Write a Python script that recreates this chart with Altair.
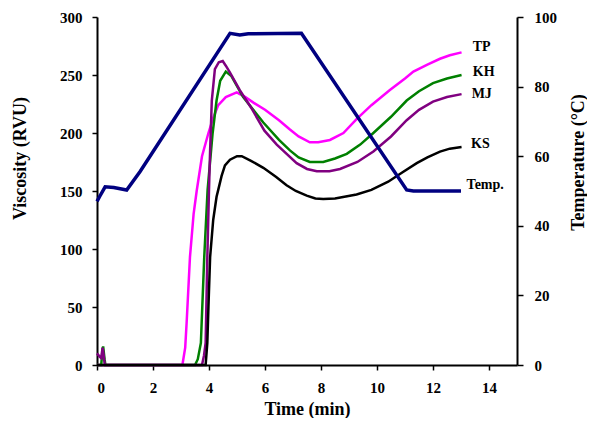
import altair as alt
import pandas as pd

# ---- data ----
series_names = ["TP", "KH", "MJ", "KS"]
series_colors = ["#FF00FF", "#008000", "#800080", "#000000"]

tp_time = [0, 3.05, 3.15, 3.2, 3.32, 3.45, 3.56, 3.75, 3.98, 4.15, 4.33, 4.6, 4.99, 5.3, 5.6, 6.0,
           6.5, 6.89, 7.2, 7.6, 7.9, 8.32, 8.8, 9.27, 9.8, 10.46, 11.0, 11.3, 11.8, 12.25, 12.6, 13.02]
tp_visc = [0, 0, 15, 36, 93, 130, 150, 180, 200, 213, 224, 231, 235, 231, 226, 220,
           211, 203, 197, 192, 192, 194, 200, 212, 224, 237, 247, 253, 259, 264, 267, 269.5]

kh_time = [0, 0.15, 0.2, 0.22, 0.27, 0.3, 3.5, 3.6, 3.71, 3.83, 3.95, 4.13, 4.27, 4.4, 4.6, 4.8,
           5.22, 5.94, 6.5, 6.89, 7.2, 7.6, 8.08, 8.5, 8.92, 9.4, 9.87, 10.5, 11.06, 11.5, 12.0, 12.5, 13.02]
kh_visc = [0, 0, 14, 16, 5, 0, 0, 5, 19, 93, 151, 200, 228, 245, 253, 249,
           231, 209, 194, 185, 179, 175, 175, 178, 182, 190, 200, 214, 228, 236, 243, 247, 250]

mj_time = [0, 0.1, 0.15, 0.2, 0.24, 0.28, 3.75, 3.82, 3.88, 3.94, 4.0, 4.04, 4.1, 4.21, 4.35, 4.49,
           4.6, 4.75, 5.1, 5.5, 5.98, 6.42, 7.13, 7.5, 7.85, 8.3, 8.68, 9.3, 9.87, 10.5, 11.06, 11.5,
           12.0, 12.5, 13.02]
mj_visc = [10, 7, 6, 15, 8, 0, 0, 8, 19, 93, 151, 185, 228, 255, 261, 262,
           258, 252, 237, 222, 202, 190, 174, 169, 167, 167, 169, 175, 184, 197, 211, 220,
           227, 231, 233.5]

ks_time = [0, 3.88, 3.94, 3.98, 4.04, 4.15, 4.27, 4.33, 4.45, 4.57, 4.75, 5.0, 5.17, 5.5, 5.94,
           6.4, 6.77, 7.1, 7.49, 7.8, 8.08, 8.5, 9.27, 9.8, 10.4, 10.9, 11.42, 11.8, 12.25, 12.6, 13.02]
ks_visc = [0, 0, 19, 50, 93, 125, 145, 151, 163, 172, 177, 180, 180, 176, 170,
           162, 155, 150, 146, 143.5, 143, 143.5, 147, 151, 158, 166, 174, 179, 184, 186.5, 188]

temp_time = [0, 0.1, 0.29, 0.6, 1.06, 1.54, 4.75, 5.1, 5.4, 7.3, 11.06, 11.3, 13.0]
temp_vals = [47, 48.5, 51.2, 51, 50.3, 55.6, 95.3, 94.8, 95.2, 95.3, 50.3, 50, 50]

label_text = ["TP", "KH", "MJ", "KS", "Temp."]
label_time = [13.42, 13.42, 13.38, 13.36, 13.2]
label_visc = [274, 252.5, 233.5, 190.5, 155]

x_ticks = [0, 2, 4, 6, 8, 10, 12, 14]
visc_ticks = [0, 50, 100, 150, 200, 250, 300]
temp_ticks = [0, 20, 40, 60, 80, 100]

# ---- tables ----
rows = []
for name, ts, vs in zip(series_names,
                        [tp_time, kh_time, mj_time, ks_time],
                        [tp_visc, kh_visc, mj_visc, ks_visc]):
    for t, v in zip(ts, vs):
        rows.append({"series": name, "time": t, "visc": v})
visc_df = pd.DataFrame(rows)
temp_df = pd.DataFrame({"time": temp_time, "temp": temp_vals})
label_df = pd.DataFrame({"label": label_text, "time": label_time, "visc": label_visc})

FONT = "Liberation Serif"

x_enc = alt.X("time:Q",
              scale=alt.Scale(domain=[0, 15], nice=False),
              axis=alt.Axis(values=x_ticks, title="Time (min)", titleY=44,
                            titleBaseline="middle", labelPadding=10, format="d"))

y_axis = alt.Axis(orient="left", values=visc_ticks, title="Viscosity (RVU)",
                  titleAngle=270, titleX=-77, titleY=141, titleBaseline="middle",
                  titleAlign="center", labelPadding=10)
y_scale = alt.Scale(domain=[0, 300], nice=False)

visc_lines = alt.Chart(visc_df).mark_line(strokeWidth=2.5).encode(
    x=x_enc,
    y=alt.Y("visc:Q", scale=y_scale, axis=y_axis),
    color=alt.Color("series:N", scale=alt.Scale(domain=series_names, range=series_colors),
                    legend=None),
    detail="series:N",
)

labels = alt.Chart(label_df).mark_text(
    align="left", baseline="middle", font=FONT, fontWeight="bold", fontSize=14, color="black"
).encode(
    x=x_enc,
    y=alt.Y("visc:Q", scale=y_scale, axis=y_axis),
    text="label:N",
)

temp_line = alt.Chart(temp_df).mark_line(strokeWidth=3.5, color="#000080").encode(
    x=x_enc,
    y=alt.Y("temp:Q", scale=alt.Scale(domain=[0, 100], nice=False),
            axis=alt.Axis(orient="right", values=temp_ticks, title="Temperature (°C)",
                          titleAngle=270, titleX=61, titleY=145, titleBaseline="middle",
                          titleAlign="center", labelPadding=11, tickSize=6)),
)

chart = alt.layer(alt.layer(visc_lines, labels), temp_line).resolve_scale(
    y="independent"
).properties(
    width=420, height=348,
    autosize=alt.AutoSizeParams(type="none"),
    padding={"left": 89, "top": 9, "right": 70, "bottom": 53},
).configure_view(stroke=None).configure_axis(
    grid=False, domainColor="black", domainWidth=2, tickColor="black", tickWidth=1.5,
    tickSize=5, labelFont=FONT, labelFontWeight="bold", labelFontSize=15, labelColor="black",
    titleFont=FONT, titleFontWeight="bold", titleFontSize=18, titleColor="black",
)

chart.save("out.html", embed_options={"renderer": "svg", "actions": False})
